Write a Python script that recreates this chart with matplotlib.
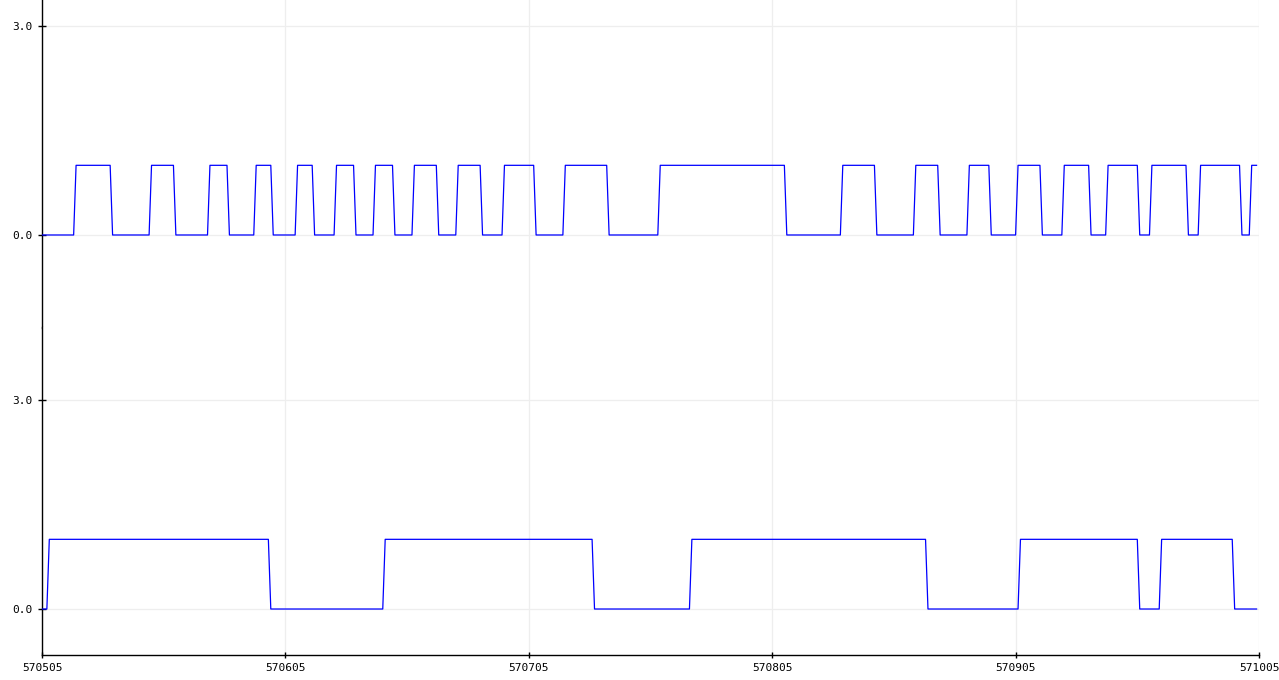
import numpy as np
import matplotlib
matplotlib.use("Agg")
import matplotlib.pyplot as plt

# sample positions (one sample per step) and edge positions
x_start = 570505
n_samples = 500
xticks = [570505, 570605, 570705, 570805, 570905, 571005]

# index of the first sample after each level change, signal starts at 0
top_edges = [14, 29, 45, 55, 69, 77, 88, 95, 105, 112, 121, 129, 137, 145,
             153, 163, 171, 181, 190, 203, 215, 233, 254, 306, 329, 343,
             359, 369, 381, 390, 401, 411, 420, 431, 438, 451, 456, 471,
             476, 493, 497]
bottom_edges = [3, 94, 141, 227, 267, 364, 402, 451, 460, 490]


def square_wave(n, edges):
    """Turn a list of edge indices into a 0/1 signal."""
    values = np.zeros(n)
    state = 0
    prev = 0
    for e in edges + [n]:
        values[prev:e] = state
        state = 1 - state
        prev = e
    return values


x = x_start + np.arange(n_samples)
top_sig = square_wave(n_samples, top_edges)
bottom_sig = square_wave(n_samples, bottom_edges)

W, H = 1279, 680
fig = plt.figure(figsize=(W / 100, H / 100), dpi=100)
fig.patch.set_facecolor("white")

left = 42 / W
width = (1259 - 42) / W
mid = 327.5
ax_top = fig.add_axes([left, (H - mid) / H, width, mid / H])
ax_bot = fig.add_axes([left, (H - 655) / H, width, (655 - mid) / H])

tick_font = {"family": "DejaVu Sans Mono", "size": 8}

for ax, sig, ylim in [(ax_top, top_sig, (-1.328, 3.373)),
                      (ax_bot, bottom_sig, (-0.660, 4.040))]:
    ax.plot(x, sig, color="#0000ff", lw=0.9, zorder=3)
    ax.set_xlim(570505, 571005)
    ax.set_ylim(*ylim)
    ax.set_yticks([0.0, 3.0])
    ax.set_yticklabels(["0.0", "3.0"], fontdict=tick_font)
    ax.set_xticks(xticks)
    ax.grid(True, color="#eeeeee", lw=0.9, zorder=0)
    for s in ["top", "right"]:
        ax.spines[s].set_visible(False)
    ax.spines["left"].set_linewidth(1.0)
    ax.spines["bottom"].set_linewidth(1.0)
    ax.tick_params(axis="y", direction="inout", length=6, width=1, pad=4)
    ax.tick_params(axis="x", direction="inout", length=5, width=1, pad=3)

ax_top.spines["bottom"].set_visible(False)
ax_top.tick_params(axis="x", length=0, labelbottom=False)
ax_bot.set_xticklabels([str(t) for t in xticks], fontdict=tick_font)

fig.savefig("out.png", dpi=100, facecolor="white")
